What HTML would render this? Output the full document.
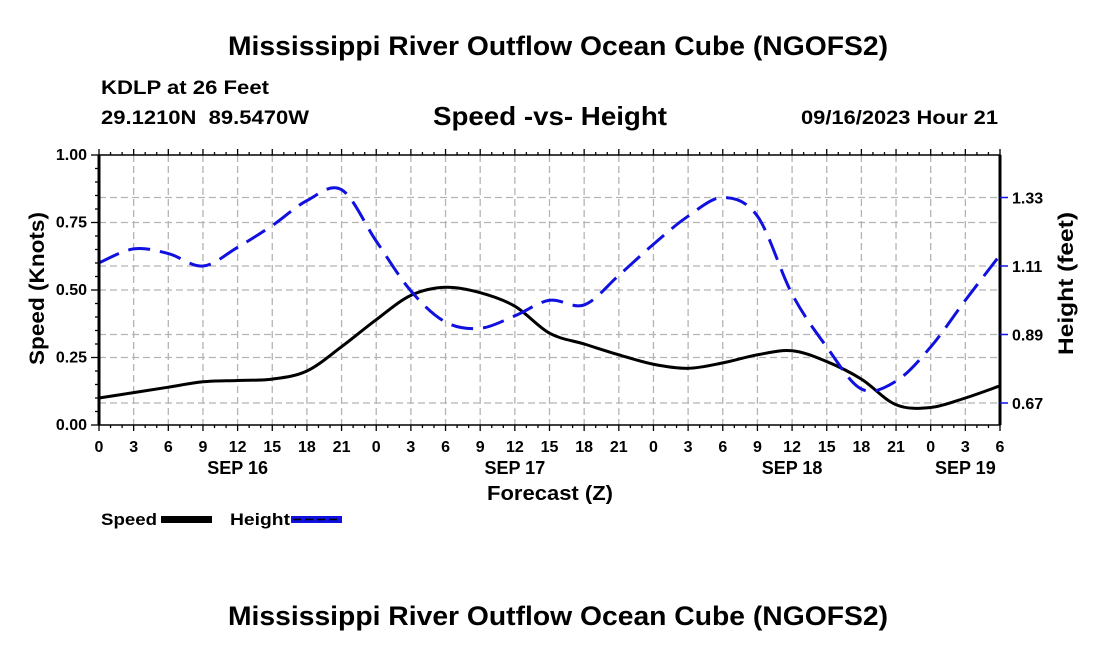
<!DOCTYPE html>
<html><head><meta charset="utf-8"><style>
body{margin:0;background:#fff;width:1100px;height:650px;overflow:hidden}
svg text{font-family:"Liberation Sans",Arial,sans-serif;font-weight:bold;fill:#000}
</style></head><body>
<svg id="chart" width="1100" height="650" viewBox="0 0 1100 650">
<text x="228" y="55" font-size="27" textLength="660" lengthAdjust="spacingAndGlyphs">Mississippi River Outflow Ocean Cube (NGOFS2)</text>
<text x="101" y="94" font-size="19" textLength="168" lengthAdjust="spacingAndGlyphs">KDLP at 26 Feet</text>
<text x="101" y="124" font-size="19" textLength="208" xml:space="preserve" lengthAdjust="spacingAndGlyphs">29.1210N  89.5470W</text>
<text x="433" y="125" font-size="26" textLength="234" lengthAdjust="spacingAndGlyphs">Speed -vs- Height</text>
<text x="801" y="124" font-size="19" textLength="197" lengthAdjust="spacingAndGlyphs">09/16/2023 Hour 21</text>
<g id="grid"></g>
<g id="series"></g>
<g id="axes"></g>
<text transform="translate(44,365) rotate(-90)" font-size="21" textLength="153" lengthAdjust="spacingAndGlyphs">Speed (Knots)</text>
<text transform="translate(1073,355) rotate(-90)" font-size="21" textLength="143" lengthAdjust="spacingAndGlyphs">Height (feet)</text>
<text x="487" y="500" font-size="20" textLength="126" lengthAdjust="spacingAndGlyphs">Forecast (Z)</text>
<g>
<text x="101" y="525" font-size="17" textLength="56" lengthAdjust="spacingAndGlyphs">Speed</text>
<rect x="161" y="516" width="51" height="7" fill="#000"/>
<text x="230" y="525" font-size="17" textLength="60" lengthAdjust="spacingAndGlyphs">Height</text>
<rect x="291" y="516" width="51" height="7" fill="#1010e0"/>
<line x1="293" y1="519.5" x2="340" y2="519.5" stroke="#000" stroke-width="1.5" stroke-dasharray="8,4"/>
</g>
<text x="228" y="625" font-size="27" textLength="660" lengthAdjust="spacingAndGlyphs">Mississippi River Outflow Ocean Cube (NGOFS2)</text>
</svg>
<script>
const hours=[0,3,6,9,12,15,18,21,24,27,30,33,36,39,42,45,48,51,54,57,60,63,66,69,72,75,78];
const speedValues=[0.10,0.12,0.14,0.16,0.165,0.17,0.20,0.29,0.39,0.48,0.51,0.49,0.44,0.34,0.30,0.26,0.225,0.21,0.23,0.26,0.275,0.235,0.17,0.075,0.065,0.10,0.145];
const heightValues=[1.12,1.165,1.15,1.11,1.17,1.24,1.32,1.355,1.19,1.03,0.93,0.91,0.95,1.00,0.985,1.08,1.18,1.27,1.33,1.27,1.02,0.85,0.715,0.74,0.85,1.00,1.145];
const xTickLabels=["0","3","6","9","12","15","18","21","0","3","6","9","12","15","18","21","0","3","6","9","12","15","18","21","0","3","6"];
const leftTicks=[0,0.25,0.5,0.75,1.0];
const rightTicks=[0.67,0.89,1.11,1.33];
const dayLabels=["SEP 16","SEP 17","SEP 18","SEP 19"];
const dayLabelHours=[12,36,60,75];
const L=99,R=1000,T=155,B=425;
const xs=h=>L+(R-L)*h/78;
const ys=v=>B-(B-T)*v;
const yh=v=>403-(v-0.67)/0.22*68.5;
const NS="http://www.w3.org/2000/svg";
function mk(tag,attrs,parent){const e=document.createElementNS(NS,tag);for(const k in attrs)e.setAttribute(k,attrs[k]);parent.appendChild(e);return e;}
const grid=document.getElementById('grid'),axes=document.getElementById('axes'),series=document.getElementById('series');
const gs={stroke:"#b4b4b4","stroke-width":1.3,"stroke-dasharray":"7,4"};
hours.forEach((h,i)=>{if(i>0&&i<hours.length-1){const g=mk('line',Object.assign({x1:xs(h),x2:xs(h),y1:T,y2:B},gs),grid);}});
leftTicks.forEach(v=>{if(v>0&&v<1){const g=mk('line',Object.assign({x1:L,x2:R,y1:ys(v),y2:ys(v)},gs),grid);}});
rightTicks.forEach(v=>{const g=mk('line',Object.assign({x1:L,x2:R,y1:yh(v),y2:yh(v)},gs),grid);});
function path(vals,f){const p=hours.map((h,i)=>[xs(h),f(vals[i])]);let d="M"+p[0][0]+","+p[0][1];for(let i=0;i<p.length-1;i++){const p0=p[Math.max(0,i-1)],p1=p[i],p2=p[i+1],p3=p[Math.min(p.length-1,i+2)];d+=" C"+(p1[0]+(p2[0]-p0[0])/6)+","+(p1[1]+(p2[1]-p0[1])/6)+" "+(p2[0]-(p3[0]-p1[0])/6)+","+(p2[1]-(p3[1]-p1[1])/6)+" "+p2[0]+","+p2[1];}return d;}
const sp=mk('path',{d:path(speedValues,ys),fill:"none",stroke:"#000","stroke-width":3},series);


const hp=mk('path',{d:path(heightValues,yh),fill:"none",stroke:"#1010e0","stroke-width":3,"stroke-dasharray":"22,10"},series);


mk('rect',{x:L,y:T,width:R-L,height:B-T,fill:"none",stroke:"#000","stroke-width":1.5},axes);
mk('line',{x1:L,x2:L,y1:T,y2:B,stroke:"#000","stroke-width":3},axes);
mk('line',{x1:R,x2:R,y1:T,y2:B,stroke:"#000","stroke-width":3},axes);
for(let h=0;h<=78;h++){const big=h%3==0;mk('line',{x1:xs(h),x2:xs(h),y1:B,y2:B+(big?6:3),stroke:"#000","stroke-width":1.3},axes);mk('line',{x1:xs(h),x2:xs(h),y1:T,y2:T-(big?6:3),stroke:"#000","stroke-width":1.3},axes);}
for(let v=0;v<=1.0001;v+=0.05){const big=Math.abs(v*4-Math.round(v*4))<1e-6;mk('line',{x1:L,x2:L-(big?8:4),y1:ys(v),y2:ys(v),stroke:"#000","stroke-width":1.3},axes);}
hours.forEach((h,i)=>{const t=mk('text',{x:xs(h),y:452,"font-size":16,"text-anchor":"middle"},axes);t.textContent=xTickLabels[i];});
dayLabels.forEach((s,i)=>{const t=mk('text',{x:xs(dayLabelHours[i]),y:474,"font-size":18,"text-anchor":"middle"},axes);t.textContent=s;});
leftTicks.forEach(v=>{const t=mk('text',{x:87,y:ys(v)+5,"font-size":16,"text-anchor":"end"},axes);t.textContent=v.toFixed(2);});
rightTicks.forEach(v=>{mk('line',{x1:R,x2:R+8,y1:yh(v),y2:yh(v),stroke:"#1010e0","stroke-width":1.5},axes);const t=mk('text',{x:1012,y:yh(v)+6,"font-size":16},axes);t.textContent=v.toFixed(2);});
</script>
</body></html>
